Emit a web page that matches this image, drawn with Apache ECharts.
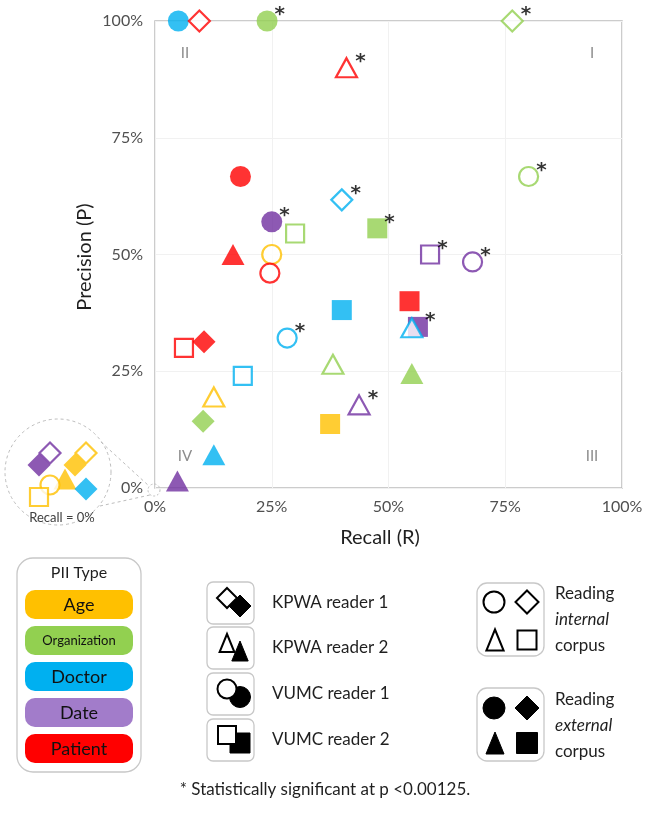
<!DOCTYPE html>
<html><head><meta charset="utf-8">
<script src="https://cdn.jsdelivr.net/npm/echarts@6/dist/echarts.min.js"></script>
<style>html,body{margin:0;padding:0;background:#fff}#c{width:650px;height:814px}</style>
</head><body><div id="c"></div>
<script>
// ---------------- DATA ----------------
const piiTypes = ['Age', 'Organization', 'Doctor', 'Date', 'Patient'];
const readers = ['KPWA reader 1', 'KPWA reader 2', 'VUMC reader 1', 'VUMC reader 2'];
const axisTicks = [0, 25, 50, 75, 100];
const quadrantNames = ['I', 'II', 'III', 'IV'];

// one entry per plotted point
const pointType = ['Doctor','Patient','Organization','Organization','Patient','Patient','Doctor','Date',
  'Organization','Organization','Organization','Patient','Age','Patient','Doctor','Doctor',
  'Patient','Patient','Doctor','Organization','Age','Date','Age','Organization',
  'Doctor','Date','Date','Date','Patient','Date','Doctor','Organization'];
const pointReader = [2,0,2,0,1,2,0,2, 3,3,2,1,2,2,3,2, 3,0,3,1,1,1,3,0, 1,1,3,2,3,3,1,1];
const pointCorpus = ['external','internal','external','internal','internal','external','internal','external',
  'internal','external','internal','external','internal','internal','external','internal',
  'internal','external','internal','internal','internal','internal','external','external',
  'external','external','internal','internal','external','external','internal','external'];
const recall = [5, 9.5, 24, 76.5, 41, 18.3, 40, 25, 30, 47.6, 80, 16.7, 25, 24.6, 40, 28.3,
  6.2, 10.5, 18.8, 38.1, 12.6, 43.7, 37.5, 10.3, 12.6, 4.8, 58.9, 68, 54.5, 56.3, 55, 55];
const precision = [100, 100, 100, 100, 90, 66.7, 61.7, 57, 54.5, 55.6, 66.7, 50, 50, 46, 38.1, 32.1,
  30, 31.3, 24, 26.5, 19.5, 17.8, 13.7, 14.3, 7.1, 1.5, 50, 48.4, 40, 34.5, 34.3, 24.5];
const significant = [0,0,1,1,1,0,1,1, 0,1,1,0,0,0,0,1, 0,0,0,0,0,1,0,0, 0,0,1,1,0,1,0,0];

// results with recall = 0% (precision undefined), shown in the magnified inset
const zeroType = ['Date', 'Date', 'Age', 'Age', 'Age', 'Age', 'Age', 'Doctor'];
const zeroReader = [0, 0, 0, 0, 1, 2, 3, 0];
const zeroCorpus = ['external', 'internal', 'external', 'internal', 'external', 'internal', 'internal', 'external'];

// ---------------- STYLE / LAYOUT ----------------
const typeColor = { Age: '#FFC000', Organization: '#92D050', Doctor: '#00B0F0', Date: '#7030A0', Patient: '#FF0000' };
const pillColor = { Age: '#FFC000', Organization: '#92D050', Doctor: '#00B0F0', Date: '#A27CCA', Patient: '#FF0000' };
const readerSymbol = ['diamond', 'triangle', 'circle', 'rect'];
const readerSize = [[23, 23], [23, 21], [21, 21], [20, 20]];
// inset layout slots (inset canvas 0..100)
const zeroSlotX = [31, 42, 67, 78, 57, 42, 31, 78];
const zeroSlotY = [55, 67, 55, 67, 41, 35, 23, 31];

const FONT = 'Lato';
const PLOT = { left: 155, top: 21, w: 467, h: 467 };

function makeItem(type, reader, corpus, value, sig) {
  const open = corpus === 'internal';
  const sz = readerSize[reader];
  const item = {
    value: value,
    symbol: readerSymbol[reader],
    symbolSize: open ? [sz[0] - 2, sz[1] - 2] : sz,
    itemStyle: open ? { color: '#ffffff', borderColor: typeColor[type], borderWidth: 2.2 }
                    : { color: typeColor[type], borderWidth: 0 }
  };
  if (sig) item.label = { show: true };
  return item;
}

const extData = [], intData = [];
for (let i = 0; i < recall.length; i++) {
  const it = makeItem(pointType[i], pointReader[i], pointCorpus[i], [recall[i], precision[i]], significant[i]);
  (pointCorpus[i] === 'internal' ? intData : extData).push(it);
}
const zeroExt = [], zeroInt = [];
for (let i = 0; i < zeroType.length; i++) {
  const it = makeItem(zeroType[i], zeroReader[i], zeroCorpus[i], [zeroSlotX[i], zeroSlotY[i]], 0);
  (zeroCorpus[i] === 'internal' ? zeroInt : zeroExt).push(it);
}

const starLabel = {
  show: false, formatter: '*', position: 'right', distance: 0, offset: [-3, -6],
  fontSize: 20, fontWeight: 'bold', color: '#000', fontFamily: 'DejaVu Sans'
};

// ---------------- GRAPHIC (legends, annotations) ----------------
const g = [];
function txt(x, y, text, size, opts) {
  opts = opts || {};
  g.push({
    type: 'text', x: x, y: y, rotation: opts.rot || 0, z: 10,
    style: {
      text: text, fill: opts.color || '#1f1f1f', fontSize: size, fontFamily: FONT,
      fontStyle: opts.italic ? 'italic' : 'normal', fontWeight: opts.bold ? 'bold' : 'normal',
      textAlign: opts.align || 'center', textVerticalAlign: 'middle',
      align: opts.align || 'center', verticalAlign: 'middle'
    }
  });
}
function shape(kind, cx, cy, s, filled) {
  const st = filled ? { fill: '#000', stroke: '#000', lineWidth: 1 } : { fill: '#fff', stroke: '#000', lineWidth: 2 };
  const h = s / 2;
  if (kind === 'circle') g.push({ type: 'circle', shape: { cx: cx, cy: cy, r: h }, style: st, z: 10 });
  else if (kind === 'rect') g.push({ type: 'rect', shape: { x: cx - h, y: cy - h, width: s, height: s }, style: st, z: 10 });
  else if (kind === 'diamond') g.push({ type: 'polygon', shape: { points: [[cx, cy - h], [cx + h, cy], [cx, cy + h], [cx - h, cy]] }, style: st, z: 10 });
  else if (kind === 'triangle') g.push({ type: 'polygon', shape: { points: [[cx, cy - h], [cx + h * 0.82, cy + h], [cx - h * 0.82, cy + h]] }, style: st, z: 10 });
}
function box(x, y, w, h, r) {
  g.push({ type: 'rect', shape: { x: x, y: y, width: w, height: h, r: r }, style: { fill: '#fff', stroke: '#c8c8c8', lineWidth: 1.3 }, z: 5 });
}

// axis titles
txt(380, 538, 'Recall (R)', 20);
txt(85, 257, 'Precision (P)', 20, { rot: Math.PI / 2 });

// quadrant labels
const quadPos = [[592, 53], [185, 53], [592, 456], [185, 456]];
quadrantNames.forEach((q, i) => txt(quadPos[i][0], quadPos[i][1], q, 15, { color: '#8c8c8c' }));

// recall = 0 inset decorations
g.push({ type: 'circle', shape: { cx: 58, cy: 472, r: 53 }, style: { fill: '#fff', stroke: '#bdbdbd', lineWidth: 1, lineDash: [3, 3] }, z: 1 });
g.push({ type: 'circle', shape: { cx: 154, cy: 490, r: 6 }, style: { fill: 'none', stroke: '#bdbdbd', lineWidth: 1, lineDash: [2, 2] }, z: 1 });
g.push({ type: 'line', shape: { x1: 101, y1: 442, x2: 149, y2: 486 }, style: { stroke: '#bdbdbd', lineWidth: 1, lineDash: [3, 3] }, z: 1 });
g.push({ type: 'line', shape: { x1: 100, y1: 506, x2: 150, y2: 495 }, style: { stroke: '#bdbdbd', lineWidth: 1, lineDash: [3, 3] }, z: 1 });
txt(62, 518, 'Recall = 0%', 13, { color: '#404040' });

// PII type legend
box(17, 558, 124, 214, 16);
txt(79, 573, 'PII Type', 16);
const pillTop = [590, 626, 662, 698, 734];
piiTypes.forEach((t, i) => {
  g.push({ type: 'rect', shape: { x: 25, y: pillTop[i], width: 108, height: 29, r: 10 }, style: { fill: pillColor[t] }, z: 8 });
  txt(79, pillTop[i] + 15, t, t === 'Organization' ? 13 : 18, { color: '#111' });
});

// reader legend
const readerCy = [603, 648, 694, 740];
readers.forEach((r, i) => {
  box(207, readerCy[i] - 21, 47, 42, 6);
  const kind = readerSymbol[i];
  const s = kind === 'diamond' ? 22 : kind === 'circle' ? 21 : 20;
  shape(kind, 240, readerCy[i] + 3, s, true);
  shape(kind, 227, readerCy[i] - 5, s - 2, false);
  txt(272, readerCy[i], r, 17, { align: 'left' });
});

// corpus legend
box(477, 583, 67, 73, 10);
shape('circle', 494, 602, 21, false); shape('diamond', 527, 602, 23, false);
shape('triangle', 495, 640, 21, false); shape('rect', 527, 640, 19, false);
txt(555, 594, 'Reading', 17, { align: 'left' });
txt(555, 620, 'internal', 17, { align: 'left', italic: true });
txt(555, 646, 'corpus', 17, { align: 'left' });
box(477, 688, 67, 73, 10);
shape('circle', 494, 708, 22, true); shape('diamond', 527, 708, 24, true);
shape('triangle', 495, 743, 22, true); shape('rect', 527, 743, 21, true);
txt(555, 700, 'Reading', 17, { align: 'left' });
txt(555, 726, 'external', 17, { align: 'left', italic: true });
txt(555, 752, 'corpus', 17, { align: 'left' });

// footnote
txt(325, 790, '* Statistically significant at p <0.00125.', 17);

// ---------------- CHART ----------------
const chart = echarts.init(document.getElementById('c'), null, { renderer: 'canvas' });
chart.setOption({
  animation: false,
  backgroundColor: '#ffffff',
  textStyle: { fontFamily: FONT },
  grid: [
    { left: PLOT.left, top: PLOT.top, width: PLOT.w, height: PLOT.h, show: true, borderColor: '#bcbcbc', borderWidth: 1.5, backgroundColor: 'transparent' },
    { left: 8, top: 420, width: 100, height: 100, show: false }
  ],
  xAxis: [
    { type: 'value', gridIndex: 0, min: axisTicks[0], max: axisTicks[axisTicks.length - 1], interval: 25,
      axisLine: { show: false }, axisTick: { show: false },
      axisLabel: { formatter: '{value}%', fontSize: 16, color: '#505050', margin: 11, fontFamily: FONT },
      splitLine: { show: true, lineStyle: { color: '#f1f1f1', width: 1 } } },
    { type: 'value', gridIndex: 1, min: 0, max: 100, show: false }
  ],
  yAxis: [
    { type: 'value', gridIndex: 0, min: axisTicks[0], max: axisTicks[axisTicks.length - 1], interval: 25,
      axisLine: { show: false }, axisTick: { show: false },
      axisLabel: { formatter: '{value}%', fontSize: 16, color: '#505050', margin: 12, fontFamily: FONT },
      splitLine: { show: true, lineStyle: { color: '#f1f1f1', width: 1 } } },
    { type: 'value', gridIndex: 1, min: 0, max: 100, show: false }
  ],
  series: [
    { type: 'scatter', name: 'external', xAxisIndex: 0, yAxisIndex: 0, clip: false, z: 3, data: extData, label: starLabel },
    { type: 'scatter', name: 'internal', xAxisIndex: 0, yAxisIndex: 0, clip: false, z: 4, data: intData, label: starLabel },
    { type: 'scatter', name: 'zero-external', xAxisIndex: 1, yAxisIndex: 1, clip: false, z: 3, data: zeroExt },
    { type: 'scatter', name: 'zero-internal', xAxisIndex: 1, yAxisIndex: 1, clip: false, z: 4, data: zeroInt }
  ],
  graphic: g
});
</script>
</body></html>
